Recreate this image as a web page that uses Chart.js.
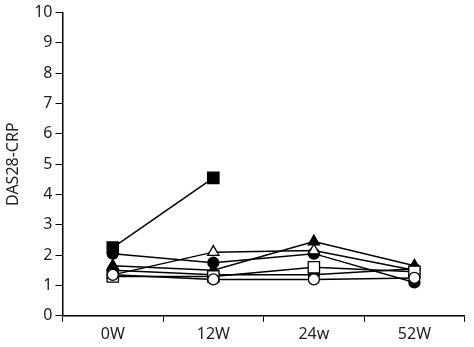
<!DOCTYPE html>
<html>
<head>
<meta charset="utf-8">
<script src="https://cdn.jsdelivr.net/npm/chart.js@4"></script>
<style>
  html, body { margin: 0; padding: 0; background: #fff; }
  #wrap { width: 474px; height: 347px; }
</style>
</head>
<body>
<div id="wrap"><canvas id="chart" width="474" height="347"></canvas></div>
<script>
// categorias (semanas)
const semanas = ['0W', '12W', '24w', '52W'];
const yTicks = [0, 1, 2, 3, 4, 5, 6, 7, 8, 9, 10];

// valores DAS28-CRP por paciente
const pacCuadrado   = [2.25, 4.55, null, null];
const pacCirculo1   = [2.05, 1.75, 2.05, 1.1];
const pacTriangulo  = [1.65, 1.5, 2.45, 1.65];
const pacTrianAbto  = [1.35, 2.1, 2.15, 1.5];
const pacCirculo2   = [1.5, 1.35, 1.35, 1.55];
const pacCuadAbto   = [1.3, 1.3, 1.6, 1.45];
const pacCircAbto   = [1.35, 1.2, 1.2, 1.25];

const radios = { rect: 8, circle: 5.5, triangle: 6.5 };

const serie = (data, estilo, relleno) => ({
    data: data,
    borderColor: '#000',
    borderWidth: 1.5,
    pointStyle: estilo,
    pointRadius: radios[estilo],
    pointBorderWidth: 1.3,
    pointBorderColor: '#000',
    pointBackgroundColor: relleno ? '#000' : '#fff',
    tension: 0
});

const fuente = { family: 'Noto Sans', size: 16 };

new Chart(document.getElementById('chart'), {
    type: 'line',
    data: {
        labels: semanas,
        datasets: [
            serie(pacCircAbto, 'circle', false),
            serie(pacCuadAbto, 'rect', false),
            serie(pacCirculo2, 'circle', true),
            serie(pacTrianAbto, 'triangle', false),
            serie(pacTriangulo, 'triangle', true),
            serie(pacCirculo1, 'circle', true),
            serie(pacCuadrado, 'rect', true)
        ]
    },
    options: {
        responsive: false,
        animation: false,
        layout: { padding: { top: 4, right: 4, left: 4, bottom: 0 } },
        plugins: { legend: { display: false }, tooltip: { enabled: false } },
        scales: {
            x: {
                offset: true,
                grid: { offset: true, drawOnChartArea: false, tickLength: 6, color: '#000', lineWidth: 1 },
                border: { color: '#000', width: 1.5 },
                ticks: { color: '#222', font: fuente, padding: 3 }
            },
            y: {
                min: 0,
                max: 10,
                afterBuildTicks: (axis) => { axis.ticks = yTicks.map(v => ({ value: v })); },
                grid: { drawOnChartArea: false, tickLength: 7, color: '#000', lineWidth: 1 },
                border: { color: '#000', width: 1.5 },
                ticks: { color: '#222', font: fuente, padding: 3 },
                title: { display: true, text: 'DAS28-CRP', color: '#222', font: fuente, padding: { top: 0, bottom: 8 } }
            }
        }
    }
});
</script>
</body>
</html>
